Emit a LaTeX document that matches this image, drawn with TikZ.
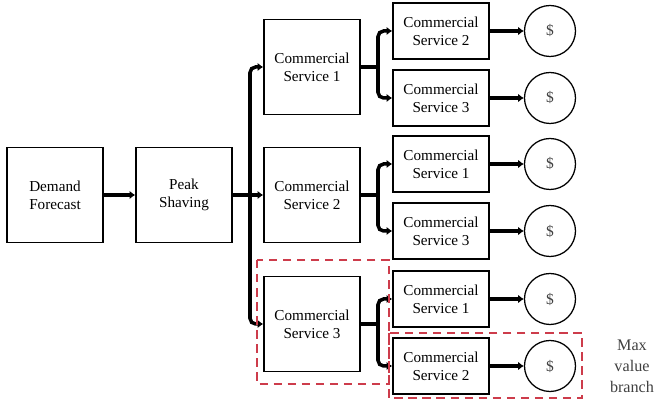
\documentclass[tikz,border=0pt]{standalone}
\usepackage{fontspec}
\setmainfont{Liberation Serif}
\usepackage{tikz}
\usetikzlibrary{arrows.meta}

\definecolor{maxred}{RGB}{205,60,75}

\begin{document}
\begin{tikzpicture}[
        block/.style={draw, line width=1.1pt, minimum width=2.4cm, align=center,
            font=\fontsize{10.8}{13}\selectfont},
        bigblock/.style={block, minimum height=2.375cm},
        smallblock/.style={block, minimum height=1.4cm},
        payoff/.style={draw, circle, line width=0.9pt, minimum size=1.275cm,
            font=\fontsize{11}{13}\selectfont, text=black!75},
        link/.style={line width=2.5pt, rounded corners=4pt, -{Latex[length=4pt,width=6pt]}},
        stub/.style={line width=2.5pt, line cap=rect},
        maxbox/.style={draw=maxred, line width=1.3pt, dash pattern=on 6pt off 4pt}
    ]
        \useasboundingbox (0,0) rectangle (16.475,10);
        % first two stages
        \node[bigblock] (demand) at (1.375,5.125) {Demand\\Forecast};
        \node[bigblock] (peak) at (4.6,5.125) {Peak\\Shaving};
        \draw[link] (demand) -- (peak);
        % second stage
        \node[bigblock] (csA) at (7.8,8.325) {Commercial\\Service 1};
        \node[bigblock] (csB) at (7.8,5.125) {Commercial\\Service 2};
        \node[bigblock] (csC) at (7.8,1.9) {Commercial\\Service 3};
        \coordinate (bus) at (6.25,5.125);
        \draw[link] (peak) -- (csB);
        \draw[link] (bus) |- (csA);
        \draw[link] (bus) |- (csC);
        % third stage and payoffs
        \foreach \n/\y/\k in {a/9.225/2, b/7.55/3, c/5.9/1, d/4.225/3, e/2.525/1, f/0.85/2} {
            \node[smallblock] (cs\n) at (11.025,\y) {Commercial\\Service \k};
            \node[payoff] (pay\n) at (13.75,\y) {\$};
            \draw[link] (cs\n) -- (pay\n);
        }
        \foreach \s/\t/\u/\y in {csA/csa/csb/8.325, csB/csc/csd/5.125, csC/cse/csf/1.9} {
            \coordinate (split\s) at (9.45,\y);
            \draw[stub] (\s) -- (split\s);
            \draw[link] (split\s) |- (\t);
            \draw[link] (split\s) |- (\u);
        }
        % best path
        \draw[maxbox] (6.425,3.5) rectangle (9.725,0.4);
        \draw[maxbox] (9.725,1.675) rectangle (14.55,0.05);
        \node[align=center, text=black!75, font=\fontsize{11.5}{15}\selectfont] (maxlabel) at (15.8,0.85) {Max\\value\\branch};
    \end{tikzpicture}
\end{document}
